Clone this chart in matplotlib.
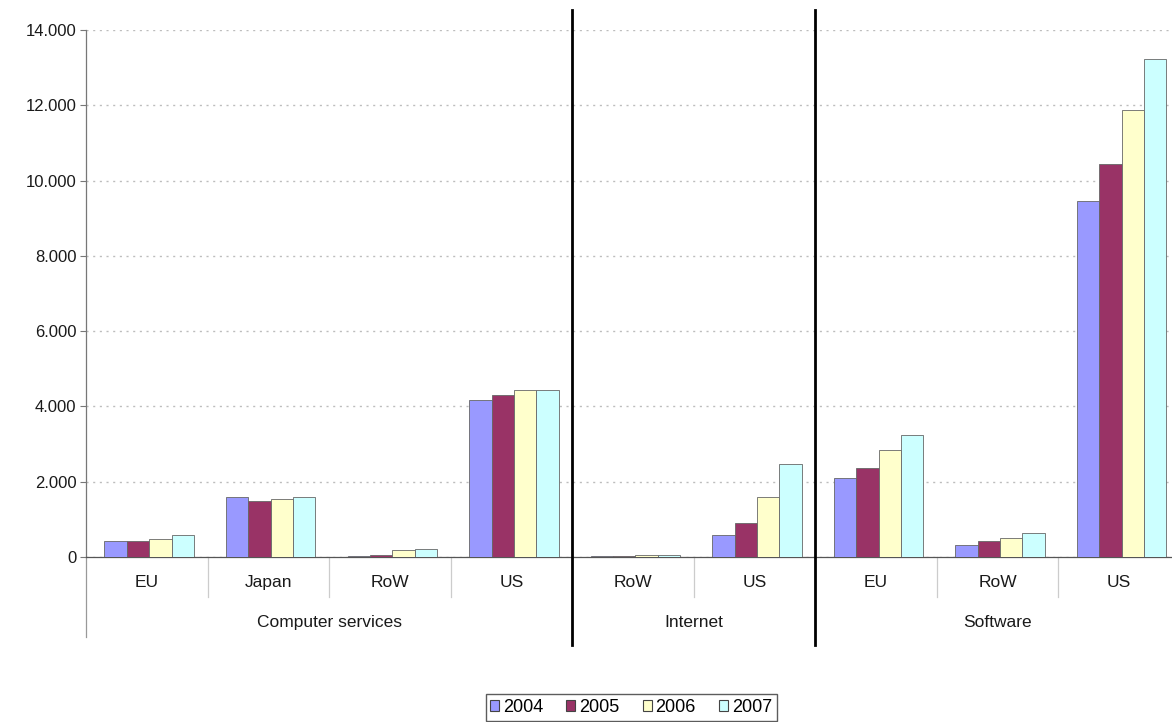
import matplotlib
matplotlib.use("Agg")
import matplotlib.pyplot as plt
import matplotlib.transforms as mtransforms
from matplotlib.patches import Patch
from matplotlib.ticker import FuncFormatter, MultipleLocator

plt.rcParams['font.family'] = ['Liberation Sans', 'DejaVu Sans']

years = ['2004', '2005', '2006', '2007']
groups = ['Computer services', 'Internet', 'Software']
group_sizes = [4, 2, 3]
categories = ['EU', 'Japan', 'RoW', 'US', 'RoW', 'US', 'EU', 'RoW', 'US']
v2004 = [430, 1590, 30, 4180, 30, 580, 2100, 310, 9450]
v2005 = [430, 1480, 40, 4300, 30, 900, 2370, 430, 10450]
v2006 = [490, 1550, 180, 4440, 50, 1590, 2850, 495, 11870]
v2007 = [590, 1600, 210, 4440, 60, 2460, 3250, 640, 13230]
series = [v2004, v2005, v2006, v2007]
colors = ['#9999FF', '#993366', '#FFFFCC', '#CCFFFF']

W, H = 1172, 722
fig = plt.figure(figsize=(W / 100, H / 100), dpi=100)
ax = fig.add_axes([86 / W, 165 / H, 1094 / W, 527 / H])

n = len(categories)
x = list(range(n))
bw = 0.184
for i, (vals, c) in enumerate(zip(series, colors)):
    off = (i - 1.5) * bw + 0.02
    ax.bar([xi + off for xi in x], vals, width=bw, color=c,
           edgecolor='#666666', linewidth=0.6, zorder=3, label=years[i])

ax.set_xlim(-0.5, n - 0.5)
ax.set_ylim(0, 14000)
ax.yaxis.set_major_locator(MultipleLocator(2000))
ax.yaxis.set_major_formatter(FuncFormatter(lambda v, p: f"{int(v):,}".replace(',', '.')))
ax.set_axisbelow(True)
ax.grid(axis='y', color='#bdbdbd', linewidth=1.0, linestyle=(0, (1.5, 3.3)))
ax.set_xticks([])
ax.tick_params(axis='y', length=4, width=0.8, color='#777777', pad=3,
               labelsize=12, labelcolor='#1a1a1a')
for s in ['top', 'right']:
    ax.spines[s].set_visible(False)
ax.spines['left'].set_color('#777777')
ax.spines['bottom'].set_color('#555555')
ax.spines['left'].set_linewidth(0.9)
ax.spines['bottom'].set_linewidth(0.9)

trans = mtransforms.blended_transform_factory(ax.transData, ax.transAxes)
# extended left axis line below baseline
ax.plot([-0.5, -0.5], [0, -0.152], transform=trans, color='#999999', lw=0.9, clip_on=False)
# category separators
for b in range(1, n):
    ax.plot([b - 0.5, b - 0.5], [0, -0.076], transform=trans, color='#cccccc', lw=0.9, clip_on=False)
# category labels
for xi, lab in zip(x, categories):
    ax.text(xi, -0.049, lab, transform=trans, ha='center', va='center',
            fontsize=12.5, color='#1a1a1a')
# group labels and dividers
start = 0
for gi, (g, sz) in enumerate(zip(groups, group_sizes)):
    end = start + sz
    center = (start + end - 1) / 2
    ax.text(center, -0.125, g, transform=trans, ha='center', va='center',
            fontsize=12.5, color='#1a1a1a')
    if gi < len(groups) - 1:
        ax.plot([end - 0.5, end - 0.5], [1.038, -0.167], transform=trans,
                color='black', lw=2.0, clip_on=False, zorder=5)
    start = end

handles = [Patch(facecolor=c, edgecolor='#444444', linewidth=0.8, label=y) for c, y in zip(colors, years)]
leg = fig.legend(handles=handles, loc='center', bbox_to_anchor=(631 / W, 1 - 707.5 / H),
                 ncol=4, fontsize=13, frameon=True, fancybox=False,
                 handlelength=0.5, handleheight=0.5, handletextpad=0.2,
                 columnspacing=1.3, borderpad=0.25, borderaxespad=0)
leg.get_frame().set_edgecolor('#333333')
leg.get_frame().set_linewidth(1.0)

fig.savefig('out.png', dpi=100)
